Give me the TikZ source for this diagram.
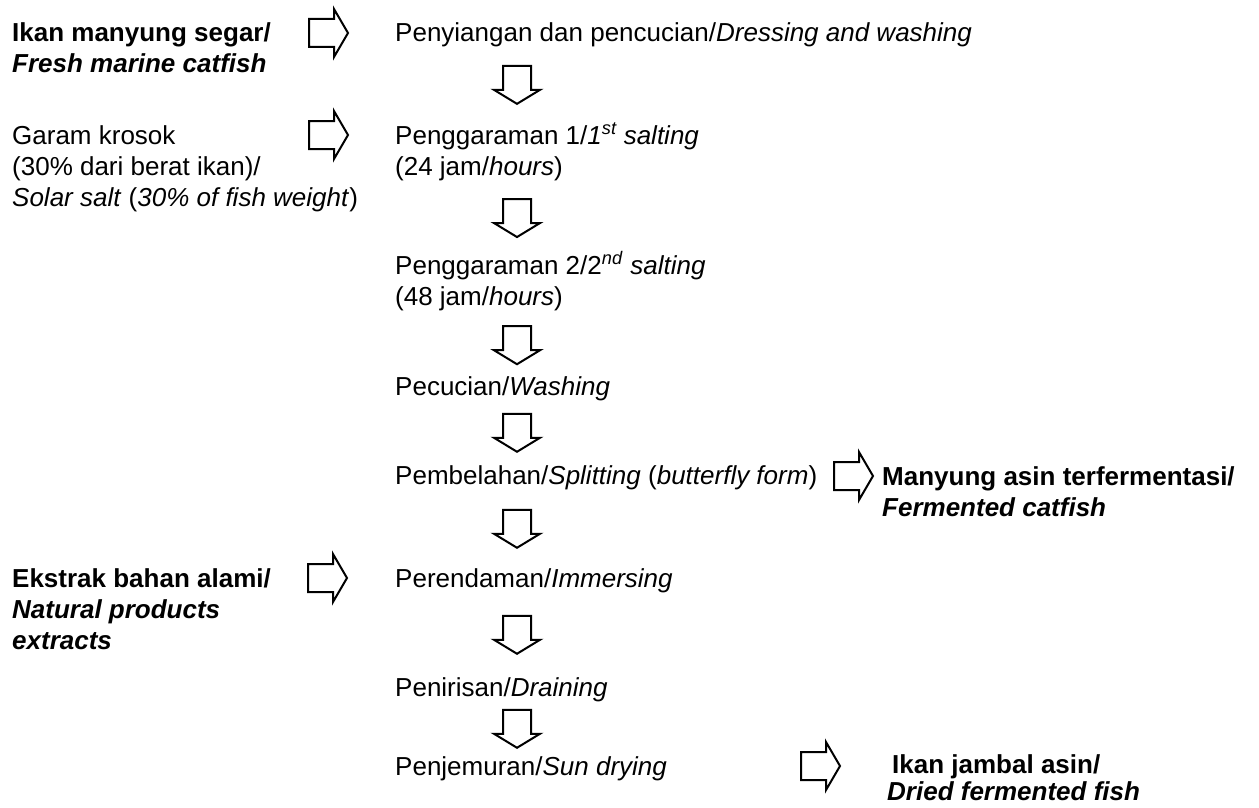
\documentclass[tikz,border=0pt]{standalone}
\usepackage{fontspec}
\setmainfont{Liberation Sans}
\usetikzlibrary{calc}
\newcommand\stack[1]{\begin{tabular}[t]{@{}l@{}}#1\end{tabular}}
\begin{document}
\begin{tikzpicture}[x=1pt,y=1pt,
  txt/.style={anchor=base west,inner sep=0pt,font=\fontsize{26}{31}\selectfont},
  arrline/.style={line width=2pt,line join=miter},
  darr/.pic={\draw[arrline] (-14,19) -- (-14,-5) -- (-23,-5) -- (0,-19) -- (23,-5) -- (14,-5) -- (14,19) -- cycle;},
  rarr/.pic={\draw[arrline] (0,14) -- (25,14) -- (25,24) -- (39,0) -- (25,-24) -- (25,-14) -- (0,-14) -- cycle;}]
\useasboundingbox (0,0) rectangle (1259,-808);
% left column
\node[txt] (fish) at (12,-42) {\stack{\textbf{Ikan manyung segar/}\\\textbf{\textit{Fresh marine catfish}}}};
\node[txt] (salt) at (12,-144) {\stack{Garam krosok\\(30\% dari berat ikan)/\\\textit{Solar salt} (\textit{30\% of fish weight})}};
\node[txt] (extr) at (12,-587) {\stack{\textbf{Ekstrak bahan alami/}\\\textbf{\textit{Natural products}}\\\textbf{\textit{extracts}}}};
% process steps
\node[txt] (dress) at (395,-42) {Penyiangan dan pencucian/\textit{Dressing and washing}};
\node[txt] (salt1) at (395,-144) {\stack{Penggaraman 1/\textit{1\textsuperscript{st} salting}\\(24 jam/\textit{hours})}};
\node[txt] (salt2) at (395,-274) {\stack{Penggaraman 2/2\textsuperscript{\textit{nd}} \textit{salting}\\(48 jam/\textit{hours})}};
\node[txt] (wash) at (395,-395) {Pecucian/\textit{Washing}};
\node[txt] (split) at (395,-484) {Pembelahan/\textit{Splitting} (\textit{butterfly form})};
\node[txt] (imm) at (395,-587) {Perendaman/\textit{Immersing}};
\node[txt] (drain) at (395,-696) {Penirisan/\textit{Draining}};
\node[txt] (sun) at (395,-775) {Penjemuran/\textit{Sun drying}};
% products
\node[txt] (ferm) at (882,-485) {\stack{\textbf{Manyung asin terfermentasi/}\\\textbf{\textit{Fermented catfish}}}};
\node[txt] (jambal) at (887,-773) {\stack{\hspace*{5pt}\textbf{Ikan jambal asin/}\\[-4pt]\textbf{\textit{Dried fermented fish}}}};
% block arrows
\coordinate (axis) at (517,0);
\foreach \a/\b in {dress/salt1,salt1/salt2,salt2/wash,wash/split,split/imm,imm/drain,drain/sun}
  \path (\a.south) -- (\b.north) coordinate[midway] (m) pic at (axis |- m) {darr};
\pic at ($(309,0 |- fish.base)+(0,9)$) {rarr};
\pic at ($(309,0 |- salt.base)+(0,9)$) {rarr};
\pic at ($(308,0 |- extr.base)+(0,9)$) {rarr};
\pic at ($(834,0 |- ferm.base)+(0,9)$) {rarr};
\pic at ($(801,0 |- jambal.base)+(0,7)$) {rarr};
\end{tikzpicture}
\end{document}
